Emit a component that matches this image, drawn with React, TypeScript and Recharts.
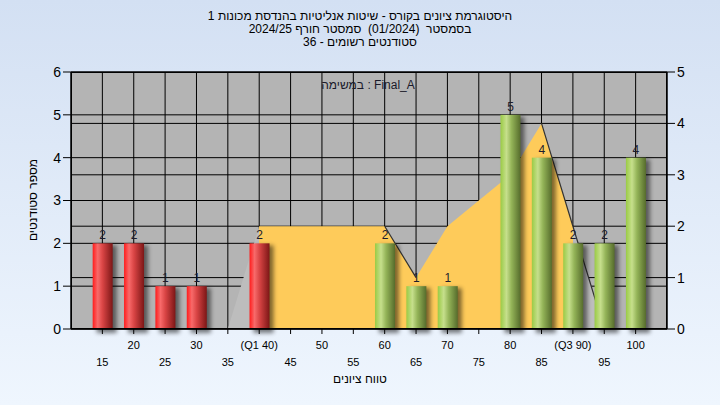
import { ComposedChart, Bar, Area, Line, XAxis, YAxis, CartesianGrid, LabelList } from 'recharts'

const scores = [15, 20, 25, 30, 35, 40, 45, 50, 55, 60, 65, 70, 75, 80, 85, 90, 95, 100]
const students = [2, 2, 1, 1, 0, 2, 0, 0, 0, 2, 1, 1, 0, 5, 4, 2, 2, 4]
const curve = [null, null, null, null, 0, 2, 2, 2, 2, 2, 1, 2, 2.5, 3, 4, 2, 0, null]
const curveEdge = [null, null, null, null, null, null, null, null, null, 2, 1, null, null, null, 4, 2, 0, null]
const quartiles = [
  { name: 'Q1', score: 40 },
  { name: 'Q3', score: 90 },
]
const leftTicks = [0, 1, 2, 3, 4, 5, 6]
const rightTicks = [0, 1, 2, 3, 4, 5]

const titleLines = [
  'היסטוגרמת ציונים בקורס - שיטות אנליטיות בהנדסת מכונות 1',
  'בסמסטר  (01/2024)  סמסטר חורף 2024/25',
  'סטודנטים רשומים - 36',
]
const taskText = 'במשימה : Final_A'
const xTitle = 'טווח ציונים'
const yTitle = 'מספר סטודנטים'

const data = scores.map((score, i) => ({
  score,
  students: students[i],
  curve: curve[i],
  edge: curveEdge[i],
}))

const FONT = "'Liberation Sans', Arial, sans-serif"

function ScoreTick(props: any) {
  const { x, y, payload } = props
  const v = payload.value as number
  const q = quartiles.find((d) => d.score === v)
  const label = q ? `(${q.name} ${v})` : String(v)
  const lower = v % 10 === 5
  return (
    <text x={x} y={y + (lower ? 30 : 13)} textAnchor="middle" fill="#000" fontSize={11} fontFamily={FONT}>
      {label}
    </text>
  )
}

function CylinderBar(props: any) {
  const { x, y, width, height, payload } = props
  if (!height || height <= 0) return null
  const fill = payload.score < 50 ? 'url(#barRed)' : 'url(#barGreen)'
  return (
    <g>
      <rect x={x + 4} y={y + 2} width={width} height={height + 2} fill="#000" opacity={0.5} filter="url(#barShadow)" />
      <rect x={x} y={y} width={width} height={height} fill={fill} />
    </g>
  )
}

function BarValue(props: any) {
  const { x, y, width, value } = props
  if (!value) return null
  return (
    <text x={x + width / 2} y={y - 4} textAnchor="middle" fill="#1c1c2c" fontSize={12} fontFamily={FONT}>
      {value}
    </text>
  )
}

export default function App() {
  return (
    <div
      style={{
        position: 'absolute',
        left: 0,
        top: 0,
        width: 720,
        height: 405,
        background: 'linear-gradient(#d3e0f3, #eff6fe)',
        fontFamily: FONT,
        overflow: 'hidden',
      }}
    >
      <ComposedChart width={720} height={405} data={data} margin={{ top: 72, right: 0, bottom: 0, left: 0 }}>
        <defs>
          <linearGradient id="barRed" x1="0" y1="0" x2="1" y2="0">
            <stop offset="0" stopColor="#ff1c1c" />
            <stop offset="0.25" stopColor="#f86a6a" />
            <stop offset="0.5" stopColor="#d84444" />
            <stop offset="1" stopColor="#7c1616" />
          </linearGradient>
          <linearGradient id="barGreen" x1="0" y1="0" x2="1" y2="0">
            <stop offset="0" stopColor="#9acb45" />
            <stop offset="0.3" stopColor="#c6df8c" />
            <stop offset="0.55" stopColor="#94b458" />
            <stop offset="1" stopColor="#566c2c" />
          </linearGradient>
          <linearGradient id="curveFill" x1="0" y1="0" x2="1" y2="0">
            <stop offset="0" stopColor="#bdbdbd" />
            <stop offset="0.0833" stopColor="#bdbdbd" />
            <stop offset="0.0833" stopColor="#fecb5a" />
            <stop offset="0.9167" stopColor="#fecb5a" />
            <stop offset="0.9167" stopColor="#bdbdbd" />
            <stop offset="1" stopColor="#bdbdbd" />
          </linearGradient>
          <filter id="barShadow" x="-50%" y="-10%" width="200%" height="130%">
            <feGaussianBlur stdDeviation="2" />
          </filter>
        </defs>
        <CartesianGrid yAxisId="left" stroke="#000" strokeOpacity={1} fill="#b4b4b4" fillOpacity={1} />
        <CartesianGrid yAxisId="right" stroke="#000" strokeOpacity={1} vertical={false} />
        <XAxis
          dataKey="score"
          type="number"
          domain={[10, 105]}
          ticks={scores}
          interval={0}
          height={76}
          tick={<ScoreTick />}
          tickSize={5}
          axisLine={{ stroke: '#000' }}
          tickLine={{ stroke: '#000' }}
        />
        <YAxis
          yAxisId="left"
          width={71}
          domain={[0, 6]}
          ticks={leftTicks}
          interval={0}
          tickSize={8}
          axisLine={{ stroke: '#000' }}
          tickLine={{ stroke: '#000' }}
          tick={{ fill: '#000', fontSize: 14, fontFamily: FONT }}
        />
        <YAxis
          yAxisId="right"
          orientation="right"
          width={53}
          domain={[0, 5]}
          ticks={rightTicks}
          interval={0}
          tickSize={8}
          axisLine={{ stroke: '#000' }}
          tickLine={{ stroke: '#000' }}
          tick={{ fill: '#000', fontSize: 14, fontFamily: FONT }}
        />
        <Area
          yAxisId="right"
          dataKey="curve"
          type="linear"
          stroke="none"
          fill="url(#curveFill)"
          fillOpacity={1}
          zIndex={100}
          isAnimationActive={false}
        />
        <Line
          yAxisId="right"
          dataKey="edge"
          type="linear"
          stroke="#333"
          strokeWidth={1.2}
          dot={false}
          activeDot={false}
          zIndex={150}
          isAnimationActive={false}
        />
        <Bar yAxisId="left" dataKey="students" barSize={20} shape={<CylinderBar />} zIndex={300} isAnimationActive={false}>
          <LabelList dataKey="students" content={<BarValue />} />
        </Bar>
      </ComposedChart>

      <div style={{ position: 'absolute', left: 71, top: 72, width: 596, height: 257, boxSizing: 'border-box', border: '1px solid #000', pointerEvents: 'none' }} />

      <div style={{ position: 'absolute', left: 0, top: 10, width: 720, textAlign: 'center', fontSize: 12, lineHeight: '13px', color: '#000', whiteSpace: 'pre' }}>
        {titleLines.map((t, i) => (
          <div key={i}>{t}</div>
        ))}
      </div>
      <div style={{ position: 'absolute', left: 268, top: 78, width: 200, textAlign: 'center', fontSize: 12, color: '#1a1a2a' }}>
        {taskText}
      </div>
      <div style={{ position: 'absolute', left: 260, top: 372, width: 200, textAlign: 'center', fontSize: 12, color: '#000' }}>
        {xTitle}
      </div>
      <div
        style={{
          position: 'absolute',
          left: 33 - 60,
          top: 200 - 8,
          width: 120,
          textAlign: 'center',
          fontSize: 12,
          lineHeight: '16px',
          color: '#000',
          transform: 'rotate(-90deg)',
        }}
      >
        {yTitle}
      </div>
    </div>
  )
}
